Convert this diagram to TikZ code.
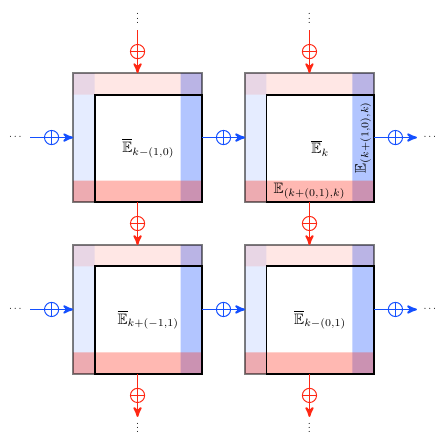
\documentclass[tikz,border=0pt]{standalone}
\usepackage{amsmath}
\usepackage{amssymb}
\usepackage{xcolor}
\usepackage{tikz}
\usetikzlibrary{arrows,positioning,backgrounds}

\definecolor{flowblue}{RGB}{20,80,255}
\definecolor{flowred}{RGB}{255,40,20}

\begin{document}
\begin{tikzpicture}[>=stealth',node distance=4cm,
    block/.style={rectangle,minimum size=3cm,inner sep=0pt,outer sep=0pt,
        draw=black,draw opacity=0.5,line width=0.9pt},
    core/.style={rectangle,minimum size=2.5cm,inner sep=0pt,outer sep=0pt,
        draw=black,line width=1.3pt},
    sum/.style={circle,draw,line width=0.65pt,minimum size=3.3mm,inner sep=0pt,
        path picture={\draw[line width=0.65pt]
            (path picture bounding box.north) -- (path picture bounding box.south)
            (path picture bounding box.west) -- (path picture bounding box.east);}},
    hsum/.style={sum,color=flowblue},
    vsum/.style={sum,color=flowred},
    hflow/.style={->,flowblue,every edge/.append style={line width=1.25pt}},
    vflow/.style={->,flowred,every edge/.append style={line width=1.25pt}},
    more/.style={scale=0.7},
    faintblue/.style={fill=flowblue,fill opacity=0.11},
    strongblue/.style={fill=flowblue,fill opacity=0.33},
    faintred/.style={fill=flowred,fill opacity=0.11},
    strongred/.style={fill=flowred,fill opacity=0.33}]

\useasboundingbox (-1.7,-8.7) rectangle (8.7,1.7);

\node[block] (B_1) at (1.5,-1.5) {};
\node[block] (B_2) [right of=B_1] {};
\node[block] (B_3) [below of=B_1] {};
\node[block] (B_4) [right of=B_3] {};

\node[core,xshift=2.5mm,yshift=-2.5mm] (E_1) at (B_1) {$\overline{\mathbb{E}}_{k-(1,0)}$};
\node[core,xshift=2.5mm,yshift=-2.5mm] (E_2) at (B_2) {$\overline{\mathbb{E}}_{k}$};
\node[core,xshift=2.5mm,yshift=-2.5mm] (E_3) at (B_3) {$\overline{\mathbb{E}}_{k+(-1,1)}$};
\node[core,xshift=2.5mm,yshift=-2.5mm] (E_4) at (B_4) {$\overline{\mathbb{E}}_{k-(0,1)}$};

\node[rotate=90] (L_r) at ([xshift=-2.5mm]B_2.east) {$\mathbb{E}_{(k+(1,0),k)}$};
\node (L_b) at ([yshift=2.5mm]B_2.south) {$\mathbb{E}_{(k+(0,1),k)}$};

% horizontal sums
\node[hsum] (H_1) [left of=B_1,node distance=2cm] {};
\node[hsum] (H_12) [right of=B_1,node distance=2cm] {};
\node[hsum] (H_2) [right of=B_2,node distance=2cm] {};
\node[hsum] (H_3) [left of=B_3,node distance=2cm] {};
\node[hsum] (H_34) [right of=B_3,node distance=2cm] {};
\node[hsum] (H_4) [right of=B_4,node distance=2cm] {};

% vertical sums
\node[vsum] (V_1) [above of=B_1,node distance=2cm] {};
\node[vsum] (V_13) [below of=B_1,node distance=2cm] {};
\node[vsum] (V_3) [below of=B_3,node distance=2cm] {};
\node[vsum] (V_2) [above of=B_2,node distance=2cm] {};
\node[vsum] (V_24) [below of=B_2,node distance=2cm] {};
\node[vsum] (V_4) [below of=B_4,node distance=2cm] {};

\coordinate[left of=B_1,node distance=2.5cm] (W_1);
\coordinate[left of=B_3,node distance=2.5cm] (W_3);
\coordinate[right of=B_2,node distance=2.5cm] (X_2);
\coordinate[right of=B_4,node distance=2.5cm] (X_4);
\coordinate[above of=B_1,node distance=2.5cm] (N_1);
\coordinate[above of=B_2,node distance=2.5cm] (N_2);
\coordinate[below of=B_3,node distance=2.5cm] (S_3);
\coordinate[below of=B_4,node distance=2.5cm] (S_4);

\node[more,left=2pt of W_1] (D_W1) {$\cdots$};
\node[more,left=2pt of W_3] (D_W3) {$\cdots$};
\node[more,right=2pt of X_2] (D_X2) {$\cdots$};
\node[more,right=2pt of X_4] (D_X4) {$\cdots$};
\node[more,above=2pt of N_1] (D_N1) {$\vdots$};
\node[more,above=2pt of N_2] (D_N2) {$\vdots$};
\node[more,below=-2.5pt of S_3] (D_S3) {$\vdots$};
\node[more,below=-2.5pt of S_4] (D_S4) {$\vdots$};

\path[hflow]
    (W_1) edge[-] (H_1)  (H_1) edge (B_1)
    (B_1) edge[-] (H_12) (H_12) edge (B_2)
    (B_2) edge[-] (H_2)  (H_2) edge (X_2)
    (W_3) edge[-] (H_3)  (H_3) edge (B_3)
    (B_3) edge[-] (H_34) (H_34) edge (B_4)
    (B_4) edge[-] (H_4)  (H_4) edge (X_4);

\path[vflow]
    (N_1) edge[-] (V_1)  (V_1) edge (B_1)
    (B_1) edge[-] (V_13) (V_13) edge (B_3)
    (B_3) edge[-] (V_3)  (V_3) edge (S_3)
    (N_2) edge[-] (V_2)  (V_2) edge (B_2)
    (B_2) edge[-] (V_24) (V_24) edge (B_4)
    (B_4) edge[-] (V_4)  (V_4) edge (S_4);

\begin{pgfonlayer}{background}
\fill[faintblue] (B_1.north west) rectangle ([xshift=5mm]B_1.south west)
    (B_2.north west) rectangle ([xshift=5mm]B_2.south west)
    (B_3.north west) rectangle ([xshift=5mm]B_3.south west)
    (B_4.north west) rectangle ([xshift=5mm]B_4.south west);
\fill[strongblue] ([xshift=-5mm]B_1.north east) rectangle (B_1.south east)
    ([xshift=-5mm]B_2.north east) rectangle (B_2.south east)
    ([xshift=-5mm]B_3.north east) rectangle (B_3.south east)
    ([xshift=-5mm]B_4.north east) rectangle (B_4.south east);
\fill[faintred] (B_1.north west) rectangle ([yshift=-5mm]B_1.north east)
    (B_2.north west) rectangle ([yshift=-5mm]B_2.north east)
    (B_3.north west) rectangle ([yshift=-5mm]B_3.north east)
    (B_4.north west) rectangle ([yshift=-5mm]B_4.north east);
\fill[strongred] ([yshift=5mm]B_1.south west) rectangle (B_1.south east)
    ([yshift=5mm]B_2.south west) rectangle (B_2.south east)
    ([yshift=5mm]B_3.south west) rectangle (B_3.south east)
    ([yshift=5mm]B_4.south west) rectangle (B_4.south east);
\end{pgfonlayer}

\end{tikzpicture}
\end{document}
